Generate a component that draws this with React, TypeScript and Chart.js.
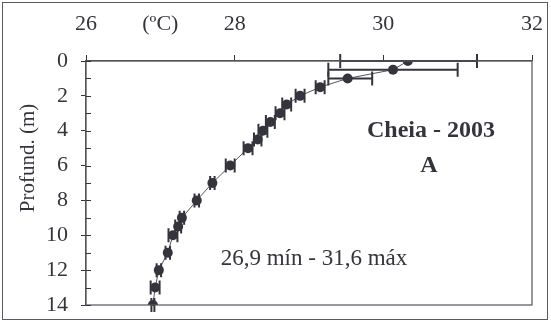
import React, { useEffect, useRef } from "react";
import { Chart, registerables } from "chart.js";

Chart.register(...registerables);

// Depth (m)
const depths = [0, 0.5, 1, 1.5, 2, 2.5, 3, 3.5, 4, 4.5, 5, 6, 7, 8, 9, 9.5, 10, 11, 12, 13, 14];
// Mean temperature (ºC)
const temps = [30.33, 30.13, 29.52, 29.15, 28.88, 28.7, 28.61, 28.48, 28.38, 28.31, 28.18, 27.94, 27.7, 27.49, 27.29, 27.24, 27.17, 27.1, 26.98, 26.93, 26.9];
// Error bar limits (ºC)
const tempLow = [29.42, 29.26, 29.26, 29.09, 28.82, 28.64, 28.55, 28.42, 28.32, 28.26, 28.12, 27.88, 27.67, 27.46, 27.26, 27.2, 27.11, 27.07, 26.95, 26.87, 26.88];
const tempHigh = [31.26, 31.0, 29.85, 29.21, 28.94, 28.76, 28.67, 28.54, 28.44, 28.36, 28.24, 28.0, 27.73, 27.52, 27.32, 27.28, 27.23, 27.13, 27.01, 26.99, 26.92];

const xTickValues = [26, 27, 28, 30, 32];
const xTickText = ["26", "(ºC)", "28", "30", "32"];
const yTickValues = [0, 2, 4, 6, 8, 10, 12, 14];

const INK = "#34343c";
const FONT = "'Liberation Serif', 'Times New Roman', serif";

const errorBarPlugin = {
  id: "errorBars",
  afterDatasetsDraw(chart: any) {
    const { ctx, scales } = chart;
    const xs = scales.x;
    const ys = scales.y;
    ctx.save();
    ctx.strokeStyle = INK;
    ctx.lineWidth = 2;
    for (let i = 0; i < depths.length; i++) {
      const y = ys.getPixelForValue(depths[i]);
      const x1 = xs.getPixelForValue(tempLow[i]);
      const x2 = xs.getPixelForValue(tempHigh[i]);
      ctx.beginPath();
      ctx.moveTo(x1, y);
      ctx.lineTo(x2, y);
      ctx.moveTo(x1, y - 7);
      ctx.lineTo(x1, y + 7);
      ctx.moveTo(x2, y - 7);
      ctx.lineTo(x2, y + 7);
      ctx.stroke();
    }
    ctx.restore();
  },
};

const framePlugin = {
  id: "frameBox",
  afterDraw(chart: any) {
    const { ctx, chartArea, scales } = chart;
    ctx.save();
    ctx.strokeStyle = "#55555c";
    ctx.lineWidth = 1.2;
    ctx.strokeRect(chartArea.left, chartArea.top, chartArea.right - chartArea.left, chartArea.bottom - chartArea.top);
    ctx.strokeStyle = INK;
    ctx.lineWidth = 1;
    for (let v = 0; v <= 14; v++) {
      const y = Math.round(scales.y.getPixelForValue(v)) + 0.5;
      ctx.beginPath();
      ctx.moveTo(chartArea.left, y);
      ctx.lineTo(chartArea.left + 5, y);
      ctx.stroke();
    }
    ctx.restore();
  },
};

function ChartView() {
  const ref = useRef<HTMLCanvasElement | null>(null);
  useEffect(() => {
    if (!ref.current) return;
    const chart = new Chart(ref.current, {
      type: "scatter",
      data: {
        datasets: [
          {
            data: depths.map((d, i) => ({ x: temps[i], y: d })),
            showLine: true,
            borderColor: "#55555c",
            borderWidth: 1,
            pointRadius: 5,
            pointBackgroundColor: INK,
            pointBorderColor: INK,
            pointBorderWidth: 0,
          },
        ],
      },
      options: {
        animation: false,
        responsive: false,
        maintainAspectRatio: false,
        layout: { padding: { left: 0, top: 0, right: 19, bottom: 21 } },
        plugins: { legend: { display: false }, tooltip: { enabled: false } },
        scales: {
          x: {
            type: "linear",
            position: "top",
            min: 26,
            max: 32,
            afterBuildTicks: (s: any) => {
              s.ticks = xTickValues.map((v) => ({ value: v }));
            },
            afterFit: (s: any) => {
              s.height = 61;
              s.paddingLeft = 0;
              s.paddingRight = 0;
            },
            ticks: {
              autoSkip: false,
              maxRotation: 0,
              padding: 18,
              color: INK,
              font: { family: FONT, size: 22 },
              callback: (v: any) => {
                const i = xTickValues.indexOf(Number(v));
                return i >= 0 ? xTickText[i] : "";
              },
            },
            grid: {
              drawOnChartArea: false,
              tickLength: 6,
              color: (c: any) => (c.tick && c.tick.value === 27 ? "rgba(0,0,0,0)" : INK),
            },
            border: { color: "#55555c", width: 1.2 },
          },
          y: {
            type: "linear",
            reverse: true,
            min: 0,
            max: 14,
            afterBuildTicks: (s: any) => {
              s.ticks = yTickValues.map((v) => ({ value: v }));
            },
            afterFit: (s: any) => {
              s.width = 86;
              s.paddingTop = 0;
              s.paddingBottom = 0;
            },
            ticks: {
              autoSkip: false,
              padding: 13,
              color: INK,
              font: { family: FONT, size: 22 },
            },
            grid: { drawOnChartArea: false, tickLength: 5, color: INK },
            border: { color: "#55555c", width: 1.2 },
            title: { display: false },
          },
        },
      },
      plugins: [errorBarPlugin, framePlugin],
    } as any);
    return () => chart.destroy();
  }, []);
  return <canvas ref={ref} width={551} height={326} style={{ display: "block", width: 551, height: 326 }} />;
}

export default function App() {
  const textBase: React.CSSProperties = {
    position: "absolute",
    fontFamily: FONT,
    color: INK,
    whiteSpace: "nowrap",
    transform: "translateX(-50%)",
  };
  return (
    <div style={{ position: "absolute", left: 0, top: 0, width: 551, height: 326, background: "#fff", overflow: "hidden" }}>
      <ChartView />
      <div
        style={{
          position: "absolute",
          left: 2,
          top: 2,
          width: 546,
          height: 318,
          border: "1.5px solid #5a5a62",
          boxSizing: "border-box",
          pointerEvents: "none",
        }}
      />
      <div
        style={{
          position: "absolute",
          left: 27,
          top: 158,
          fontFamily: FONT,
          color: INK,
          fontSize: 21,
          lineHeight: "21px",
          whiteSpace: "nowrap",
          transform: "translate(-50%, -50%) rotate(-90deg)",
        }}
      >
        Profund. (m)
      </div>
      <div style={{ ...textBase, left: 431, top: 117, fontSize: 24, lineHeight: "24px", fontWeight: "bold" }}>Cheia - 2003</div>
      <div style={{ ...textBase, left: 429, top: 152, fontSize: 24, lineHeight: "24px", fontWeight: "bold" }}>A</div>
      <div style={{ ...textBase, left: 314, top: 246, fontSize: 23, lineHeight: "23px" }}>26,9 mín - 31,6 máx</div>
    </div>
  );
}
